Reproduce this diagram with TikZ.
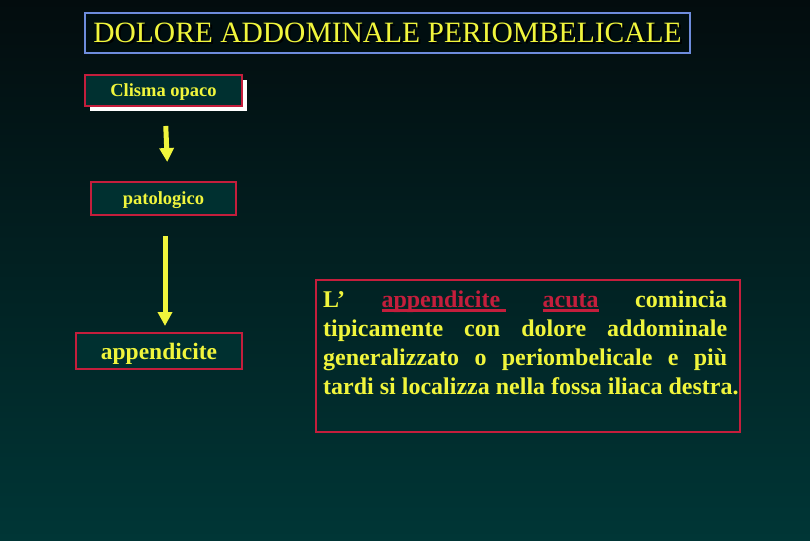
\documentclass[tikz,border=0pt]{standalone}
\usepackage{fontspec}
\setmainfont{Liberation Serif}
\usetikzlibrary{arrows.meta}

\definecolor{bgtop}{RGB}{3,12,14}
\definecolor{bgbot}{RGB}{0,54,54}
\definecolor{boxfill}{RGB}{0,48,48}
\definecolor{titlefill}{RGB}{0,14,16}
\definecolor{slideyellow}{RGB}{240,245,60}
\definecolor{boxred}{RGB}{196,30,60}
\definecolor{titleblue}{RGB}{110,140,220}

% thick underline in the current colour
\newcommand\thickul[1]{\setbox0\hbox{#1}\rlap{\rule[-4.5pt]{\wd0}{2.2pt}}\box0}

\begin{document}
\begin{tikzpicture}[x=1pt,y=-1pt,
    every node/.style={inner sep=0pt},
    titlebox/.style={draw=titleblue,line width=2pt,fill=titlefill,minimum width=605pt,minimum height=40pt},
    titletext/.style={font=\fontsize{29.5}{30}\selectfont},
    stepbox/.style={draw=boxred,line width=2pt,fill=boxfill,text=slideyellow,text depth=0pt,font=\bfseries\fontsize{18.5}{20}\selectfont},
    paraline/.style={anchor=base west,text=slideyellow,font=\bfseries\fontsize{24}{29}\selectfont},
    flow/.style={draw=slideyellow,line width=5pt,-{Triangle[width=14pt,length=14pt]}}]
	% background
	\useasboundingbox (0,0) rectangle (810,540);
	\shade [top color=bgtop,bottom color=bgbot] (0,0) rectangle (810,540);
	% title
	\node [titlebox] (title) at (387.5,33) {};
	\node [titletext,text=black] (titleshadow) at (389.5,35) {DOLORE ADDOMINALE PERIOMBELICALE};
	\node [titletext,text=slideyellow] (titletxt) at (title) {DOLORE ADDOMINALE PERIOMBELICALE};
	% left column
	\fill [white] (90,80) rectangle (247,111);
	\node [stepbox,minimum width=157pt,minimum height=31pt] (clisma) at (163.5,90.5) {Clisma opaco};
	\node [stepbox,minimum width=145pt,minimum height=33pt] (patol) at (163.5,198.5) {patologico};
	\node [stepbox,minimum width=166pt,minimum height=36pt,font=\bfseries\fontsize{23.5}{25}\selectfont] (appendix) at (159,351) {appendicite};
	\draw [flow,shorten <=19pt,shorten >=19pt] ([xshift=1.5pt]clisma.south) -- ([xshift=4.5pt]patol.north);
	\draw [flow,shorten <=20pt,shorten >=6pt] ([xshift=1.5pt]patol.south) -- ([xshift=6pt]appendix.north);
	% text box
	\node [draw=boxred,line width=2pt,minimum width=424pt,minimum height=152pt] (txtbox) at (528,356) {};
	\node [paraline] (txt1) at (323,307)
	{\makebox[404pt][s]{L'\hfill \textcolor{boxred}{\thickul{appendicite\ }}\hfill \textcolor{boxred}{\thickul{acuta}}\hfill comincia}};
	\node [paraline] (txt2) at (323,336)
	{\makebox[404pt][s]{tipicamente\hfill con\hfill dolore\hfill addominale}};
	\node [paraline] (txt3) at (323,365)
	{\makebox[404pt][s]{generalizzato\hfill o\hfill periombelicale\hfill e\hfill più}};
	\node [paraline] (txt4) at (323,394)
	{tardi si localizza nella fossa iliaca destra.};
\end{tikzpicture}
\end{document}
